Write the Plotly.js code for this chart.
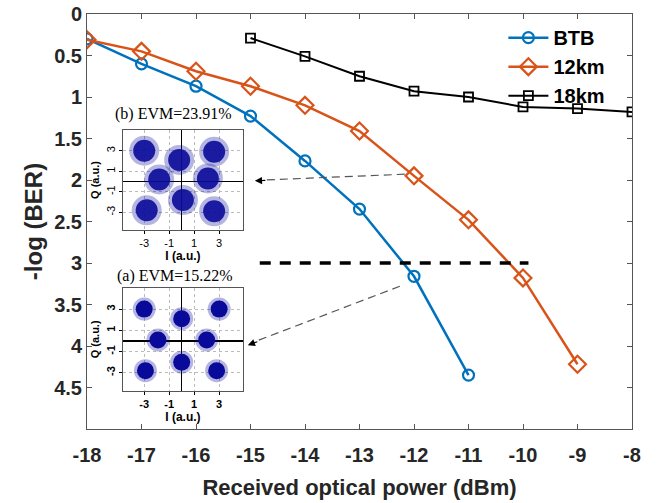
<!DOCTYPE html>
<html>
<head>
<meta charset="utf-8">
<script src="https://cdn.plot.ly/plotly-3.0.1.min.js"></script>
<style>html,body{margin:0;padding:0;background:#fff}#chart{width:661px;height:503px}</style>
</head>
<body>
<div id="chart"></div>
<script>
// ---- main data ----
const powerBTB = [-18, -17, -16, -15, -14, -13, -12, -11];
const berBTB   = [0.30, 0.60, 0.87, 1.23, 1.77, 2.35, 3.16, 4.35];
const power12  = [-18, -17, -16, -15, -14, -13, -12, -11, -10, -9];
const ber12    = [0.31, 0.45, 0.69, 0.87, 1.10, 1.41, 1.95, 2.48, 3.18, 4.22];
const power18  = [-15, -14, -13, -12, -11, -10, -9, -8];
const ber18    = [0.29, 0.51, 0.75, 0.93, 1.00, 1.12, 1.14, 1.18];
const seriesNames = ['BTB', '12km', '18km'];
const xTicks = [-18, -17, -16, -15, -14, -13, -12, -11, -10, -9, -8];
const xTickText = ['-18', '-17', '-16', '-15', '-14', '-13', '-12', '-11', '-10', '-9', '-8'];
const yTicks = [0, 0.5, 1, 1.5, 2, 2.5, 3, 3.5, 4, 4.5];
const yTickText = ['0', '0.5', '1', '1.5', '2', '2.5', '3', '3.5', '4', '4.5'];
const threshold = 3;
const thresholdX = [-14.83, -9.9];

// ---- inset constellation cluster centres ----
const constA_I = [-3, 0, 3, -1.9, 2.0, 0, -2.9, 2.8];
const constA_Q = [3.0, 2.1, 3.0, 0.1, 0.1, -2.0, -2.8, -2.8];
const constB_I = [-3.0, -0.2, 2.6, -1.8, 2.1, 0.1, -2.8, 2.6];
const constB_Q = [3.0, 2.1, 2.9, 0.2, 0.3, -1.8, -2.8, -2.9];
const insetTicks = [-3, -1, 1, 3];
const insetTickText = ['-3', '-1', '1', '3'];
const titleA = '(a) EVM=15.22%';
const titleB = '(b) EVM=23.91%';

const blue = '#0072BD', orange = '#D95319', navy = '#0a0a9a';
const sans = 'Liberation Sans, Arial, sans-serif';
const serif = 'Liberation Serif, Times New Roman, serif';

const traces = [
  {x: powerBTB, y: berBTB, name: seriesNames[0], mode: 'lines+markers',
   line: {color: blue, width: 2.5},
   marker: {symbol: 'circle-open', size: 11, color: blue, line: {width: 2.2, color: blue}}},
  {x: power12, y: ber12, name: seriesNames[1], mode: 'lines+markers',
   line: {color: orange, width: 2.5},
   marker: {symbol: 'diamond-open', size: 13, color: orange, line: {width: 2.2, color: orange}}},
  {x: power18, y: ber18, name: seriesNames[2], mode: 'lines+markers',
   line: {color: '#000', width: 2},
   marker: {symbol: 'square-open', size: 9, color: '#000', line: {width: 1.8, color: '#000'}}}
];
function clusters(I, Q, xa, ya, haloSize, coreSize, haloOp, coreOp) {
  return [
    {x: I, y: Q, xaxis: xa, yaxis: ya, mode: 'markers', showlegend: false, hoverinfo: 'skip',
     marker: {size: haloSize, color: navy, opacity: haloOp, line: {width: 0}}},
    {x: I, y: Q, xaxis: xa, yaxis: ya, mode: 'markers', showlegend: false, hoverinfo: 'skip',
     marker: {size: coreSize, color: navy, opacity: coreOp, line: {width: 0}}}
  ];
}
traces.push(...clusters(constB_I, constB_Q, 'x2', 'y2', 30, 22, 0.3, 0.9));
traces.push(...clusters(constA_I, constA_Q, 'x3', 'y3', 23, 17, 0.3, 1));

function insetX(domain, anchor, bold) {
  return {domain: domain, anchor: anchor, range: [-4.7, 4.9], tickvals: insetTicks, ticktext: insetTickText,
    ticks: 'outside', ticklen: 3, tickcolor: '#000', showline: true, linecolor: '#555', mirror: true,
    showgrid: true, gridcolor: '#bbb', griddash: 'dot', gridwidth: 1,
    zeroline: true, zerolinecolor: '#000', zerolinewidth: 1.5,
    tickfont: {family: sans, size: 11, color: '#000', weight: bold ? 'bold' : 'normal'},
    title: {text: 'I (a.u.)', font: {family: sans, size: 12, color: '#000', weight: 'bold'}, standoff: 2},
    fixedrange: true};
}
function insetY(domain, anchor, bold) {
  return {domain: domain, anchor: anchor, range: [-4.7, 5.0], tickvals: insetTicks, ticktext: insetTickText,
    ticks: 'outside', ticklen: 3, tickcolor: '#000', showline: true, linecolor: '#555', mirror: true,
    showgrid: true, gridcolor: '#bbb', griddash: 'dot', gridwidth: 1,
    zeroline: true, zerolinecolor: '#000', zerolinewidth: 1.5, tickangle: -90,
    tickfont: {family: sans, size: 11, color: '#000', weight: bold ? 'bold' : 'normal'},
    title: {text: 'Q (a.u.)', font: {family: sans, size: 11, color: '#000', weight: 'bold'}, standoff: 2},
    fixedrange: true};
}

const layout = {
  width: 661, height: 503,
  margin: {l: 87, r: 29, t: 14, b: 74},
  paper_bgcolor: '#fff', plot_bgcolor: '#fff',
  showlegend: true,
  legend: {x: 0.764, y: 0.99, xanchor: 'left', yanchor: 'top', bgcolor: 'rgba(0,0,0,0)',
    font: {family: sans, size: 20, color: '#000', weight: 'bold'}, tracegroupgap: 0, itemwidth: 40},
  xaxis: {domain: [0, 1], anchor: 'y', range: [-18, -8], tickvals: xTicks, ticktext: xTickText,
    ticks: 'inside', ticklen: 5, tickcolor: '#555', showline: true, linecolor: '#555', linewidth: 1, mirror: 'ticks',
    showgrid: false, zeroline: false, ticklabelstandoff: 8,
    tickfont: {family: sans, size: 20, color: '#262626', weight: 'bold'},
    title: {text: 'Received optical power (dBm)', font: {family: sans, size: 22, color: '#262626', weight: 'bold'}, standoff: 14}},
  yaxis: {domain: [0, 1], anchor: 'x', range: [5, 0], tickvals: yTicks, ticktext: yTickText,
    ticks: 'inside', ticklen: 5, tickcolor: '#555', showline: true, linecolor: '#555', linewidth: 1, mirror: 'ticks',
    showgrid: false, zeroline: false,
    tickfont: {family: sans, size: 20, color: '#262626', weight: 'bold'},
    title: {text: '-log (BER)', font: {family: sans, size: 24, color: '#262626', weight: 'bold'}, standoff: 4}},
  xaxis2: insetX([0.066, 0.286], 'y2', false),
  yaxis2: insetY([0.480, 0.720], 'x2', false),
  xaxis3: insetX([0.066, 0.286], 'y3', true),
  yaxis3: insetY([0.092, 0.340], 'x3', true),
  shapes: [
    {type: 'line', xref: 'x', yref: 'y', x0: thresholdX[0], x1: thresholdX[1], y0: threshold, y1: threshold,
     line: {color: '#000', width: 3.5, dash: '11px,9px'}},
    {type: 'line', xref: 'x', yref: 'y', x0: -12.17, y0: 1.93, x1: -14.75, y1: 2.00,
     line: {color: '#555', width: 1.2, dash: '8px,5px'}},
    {type: 'line', xref: 'x', yref: 'y', x0: -12.26, y0: 3.28, x1: -14.85, y1: 3.93,
     line: {color: '#555', width: 1.2, dash: '8px,5px'}}
  ],
  annotations: [
    {xref: 'paper', yref: 'paper', x: 0.158, y: 0.733, text: titleB, showarrow: false,
     font: {family: serif, size: 16, color: '#000'}, xanchor: 'center', yanchor: 'bottom'},
    {xref: 'paper', yref: 'paper', x: 0.162, y: 0.343, text: titleA, showarrow: false,
     font: {family: serif, size: 16, color: '#000'}, xanchor: 'center', yanchor: 'bottom'},
    {xref: 'x', yref: 'y', x: -14.92, y: 2.01, ax: 12, ay: -0.5, showarrow: true,
     arrowhead: 2, arrowsize: 1.2, arrowwidth: 1.2, arrowcolor: '#000', text: ''},
    {xref: 'x', yref: 'y', x: -15.05, y: 3.99, ax: 11, ay: -4, showarrow: true,
     arrowhead: 2, arrowsize: 1.2, arrowwidth: 1.2, arrowcolor: '#000', text: ''}
  ]
};

Plotly.newPlot('chart', traces, layout, {displayModeBar: false, staticPlot: true});
</script>
</body>
</html>
